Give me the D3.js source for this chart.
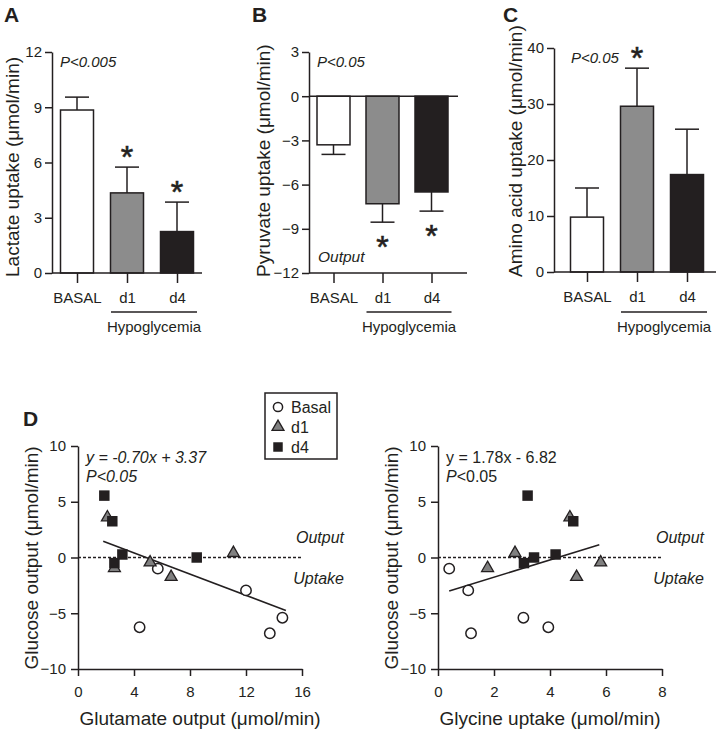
<!DOCTYPE html>
<html><head><meta charset="utf-8">
<script src="https://cdn.jsdelivr.net/npm/d3@7"></script>
<style>
body{margin:0;background:#fff;}
svg{display:block;font-family:"Liberation Sans",Arial,Helvetica,sans-serif;}
</style></head><body>
<svg id="chart" width="716" height="731"></svg>
<script>
// ---------- DATA ----------
const categories = ["BASAL", "d1", "d4"];
const groupLabel = "Hypoglycemia";

const lactateMean = [8.85, 4.35, 2.25];
const lactateSem = [0.7, 1.4, 1.6];
const lactateStars = [false, true, true];
const lactateTicks = [0, 3, 6, 9, 12];

const pyruvateMean = [-3.3, -7.3, -6.5];
const pyruvateSem = [0.65, 1.25, 1.3];
const pyruvateStars = [false, true, true];
const pyruvateTicks = [-12, -9, -6, -3, 0, 3];

const aminoMean = [9.8, 29.6, 17.4];
const aminoSem = [5.2, 6.8, 8.1];
const aminoStars = [false, true, false];
const aminoTicks = [0, 10, 20, 30, 40];

const scatterGroups = ["Basal", "d1", "d4"];
const basalGlucose = [-1.0, -6.25, -2.95, -6.8, -5.4];
const basalGlutamate = [5.7, 4.4, 12.0, 13.7, 14.6];
const basalGlycine = [0.40, 3.94, 1.08, 1.18, 3.05];
const d1Glucose = [3.6, -0.95, -0.45, -1.75, 0.4];
const d1Glutamate = [2.1, 2.6, 5.15, 6.65, 11.1];
const d1Glycine = [4.71, 1.77, 5.81, 4.95, 2.75];
const d4Glucose = [5.55, 3.25, -0.5, 0.27, 0.0];
const d4Glutamate = [1.88, 2.45, 2.6, 3.17, 8.48];
const d4Glycine = [3.2, 4.83, 3.07, 4.2, 3.43];

const glutamateFit = [[1.8, 1.45], [14.85, -4.75]];
const glycineFit = [[0.4, -3.0], [5.76, 1.14]];

const glucoseTicks = [-10, -5, 0, 5, 10];
const glutamateTicks = [0, 4, 8, 12, 16];
const glycineTicks = [0, 2, 4, 6, 8];

// ---------- STYLE ----------
const INK = "#231f20";
const barFills = ["#ffffff", "#8c8c8c", "#231f20"];
const svg = d3.select("#chart");

function styleAxis(sel, fs) {
  sel.selectAll("path.domain").attr("stroke", INK).attr("stroke-width", 1.5);
  sel.selectAll(".tick line").attr("stroke", INK).attr("stroke-width", 1.5);
  sel.selectAll(".tick text").attr("fill", INK).style("font-size", fs + "px")
    .style("font-family", '"Liberation Sans",Arial,sans-serif');
}

function barPanel(cfg) {
  const g = svg.append("g");
  const y = d3.scaleLinear().domain(cfg.domain).range([cfg.yBottom, cfg.yTop]);
  const x = d3.scalePoint().domain(categories).range(cfg.xRange).padding(0.5);
  const bw = 33;
  cfg.mean.forEach((m, i) => {
    const cx = x(categories[i]);
    const y0 = y(0), y1 = y(m);
    const e = m >= 0 ? m + cfg.sem[i] : m - cfg.sem[i];
    g.append("line").attr("x1", cx).attr("x2", cx).attr("y1", y1).attr("y2", y(e))
      .attr("stroke", INK).attr("stroke-width", 1.5);
    g.append("line").attr("x1", cx - 12).attr("x2", cx + 12).attr("y1", y(e)).attr("y2", y(e))
      .attr("stroke", INK).attr("stroke-width", 1.5);
    g.append("rect").attr("x", cx - bw / 2).attr("y", Math.min(y0, y1))
      .attr("width", bw).attr("height", Math.abs(y1 - y0))
      .attr("fill", barFills[i]).attr("stroke", INK).attr("stroke-width", 1.5);
    if (cfg.stars[i]) {
      const sy = m >= 0 ? y(e) - 17 : y(e) + 18;
      g.append("text").attr("x", cx).attr("y", sy).attr("dy", "0.57em")
        .attr("text-anchor", "middle").attr("fill", INK).attr("stroke", INK).attr("stroke-width", 0.6)
        .style("font-size", "32px").text("*");
    }
  });
  const ya = g.append("g").attr("transform", `translate(${cfg.axisX},0)`)
    .call(d3.axisLeft(y).tickValues(cfg.ticks).tickSize(7).tickSizeOuter(0).tickPadding(3));
  styleAxis(ya, 15);
  g.append("line").attr("x1", cfg.axisX).attr("x2", cfg.axisEnd)
    .attr("y1", cfg.yBottom).attr("y2", cfg.yBottom).attr("stroke", INK).attr("stroke-width", 1.5);
  if (cfg.domain[0] < 0) {
    g.append("line").attr("x1", cfg.axisX).attr("x2", cfg.zeroEnd)
      .attr("y1", y(0)).attr("y2", y(0)).attr("stroke", INK).attr("stroke-width", 1.5);
  }
  const xa = g.append("g").attr("transform", `translate(0,${cfg.yBottom})`)
    .call(d3.axisBottom(x).tickSize(10).tickSizeOuter(0).tickPadding(9));
  xa.select("path.domain").remove();
  styleAxis(xa, 15);
  const ux1 = x("d1") - 16, ux2 = x("d4") + 20;
  g.append("line").attr("x1", ux1).attr("x2", ux2).attr("y1", 312).attr("y2", 312)
    .attr("stroke", INK).attr("stroke-width", 1.5);
  g.append("text").attr("x", (ux1 + ux2) / 2).attr("y", 332).attr("text-anchor", "middle")
    .attr("fill", INK).style("font-size", "15px").text(groupLabel);
  g.append("text").attr("transform", `translate(${cfg.titleX},277) rotate(-90)`)
    .attr("text-anchor", "start").attr("fill", INK).style("font-size", "19px").text(cfg.title);
  g.append("text").attr("x", cfg.pX).attr("y", cfg.pY).attr("fill", INK)
    .style("font-size", "15px").style("font-style", "italic").text(cfg.pText);
  g.append("text").attr("x", cfg.letterX).attr("y", 22).attr("fill", INK)
    .style("font-size", "21px").style("font-weight", "bold").text(cfg.letter);
  return {g, x, y};
}

barPanel({letter: "A", letterX: 4, domain: [0, 12], ticks: lactateTicks, yTop: 52, yBottom: 273,
  xRange: [52, 202], axisX: 52, axisEnd: 202, mean: lactateMean, sem: lactateSem, stars: lactateStars,
  title: "Lactate uptake (\u03bcmol/min)", titleX: 19, pText: "P<0.005", pX: 60, pY: 67});

const pB = barPanel({letter: "B", letterX: 252, domain: [-12, 3], ticks: pyruvateTicks, yTop: 52, yBottom: 273,
  xRange: [309, 456], axisX: 309, axisEnd: 467, zeroEnd: 458, mean: pyruvateMean, sem: pyruvateSem, stars: pyruvateStars,
  title: "Pyruvate uptake (\u03bcmol/min)", titleX: 270, pText: "P<0.05", pX: 317, pY: 67});
pB.g.append("text").attr("x", 318).attr("y", 262).attr("fill", INK)
  .style("font-size", "15.5px").style("font-style", "italic").text("Output");

barPanel({letter: "C", letterX: 503, domain: [0, 40], ticks: aminoTicks, yTop: 48, yBottom: 272,
  xRange: [562, 712], axisX: 554, axisEnd: 716, mean: aminoMean, sem: aminoSem, stars: aminoStars,
  title: "Amino acid uptake (\u03bcmol/min)", titleX: 522, pText: "P<0.05", pX: 571, pY: 63});

// ---------- SCATTER ----------
const symTri = d3.symbol().type(d3.symbolTriangle).size(62);
const symSq = d3.symbol().type(d3.symbolSquare).size(110);

function scatterPanel(cfg) {
  const g = svg.append("g");
  const x = d3.scaleLinear().domain(cfg.xDomain).range([cfg.x0, cfg.x1]);
  const y = d3.scaleLinear().domain([-10, 10]).range([669, 446]);
  g.append("line").attr("x1", x(cfg.xDomain[0])).attr("x2", cfg.dashEnd)
    .attr("y1", y(0)).attr("y2", y(0)).attr("stroke", INK).attr("stroke-width", 1.3)
    .attr("stroke-dasharray", "3,2");
  g.append("line").attr("x1", x(cfg.fit[0][0])).attr("y1", y(cfg.fit[0][1]))
    .attr("x2", x(cfg.fit[1][0])).attr("y2", y(cfg.fit[1][1]))
    .attr("stroke", INK).attr("stroke-width", 1.6);
  cfg.basalX.forEach((v, i) => {
    g.append("circle").attr("cx", x(v)).attr("cy", y(basalGlucose[i])).attr("r", 5.2)
      .attr("fill", "#fff").attr("stroke", INK).attr("stroke-width", 1.5);
  });
  cfg.d1X.forEach((v, i) => {
    g.append("path").attr("d", symTri).attr("transform", `translate(${x(v)},${y(d1Glucose[i])})`)
      .attr("fill", "#808080").attr("stroke", INK).attr("stroke-width", 1.3);
  });
  cfg.d4X.forEach((v, i) => {
    g.append("path").attr("d", symSq).attr("transform", `translate(${x(v)},${y(d4Glucose[i])})`)
      .attr("fill", INK);
  });
  const ya = g.append("g").attr("transform", `translate(${cfg.x0},0)`)
    .call(d3.axisLeft(y).tickValues(glucoseTicks).tickSize(7).tickSizeOuter(0).tickPadding(5));
  styleAxis(ya, 15);
  const xa = g.append("g").attr("transform", `translate(0,669)`)
    .call(d3.axisBottom(x).tickValues(cfg.ticks).tickSize(7).tickSizeOuter(0).tickPadding(10));
  styleAxis(xa, 15);
  g.append("text").attr("x", cfg.outX).attr("y", 543).attr("text-anchor", "end").attr("fill", INK)
    .style("font-size", "16px").style("font-style", "italic").text("Output");
  g.append("text").attr("x", cfg.outX).attr("y", 584).attr("text-anchor", "end").attr("fill", INK)
    .style("font-size", "16px").style("font-style", "italic").text("Uptake");
  g.append("text").attr("x", cfg.titleCX).attr("y", 725).attr("text-anchor", "middle").attr("fill", INK)
    .style("font-size", "19px").text(cfg.xTitle);
  g.append("text").attr("transform", `translate(${cfg.yTitleX},558) rotate(-90)`)
    .attr("text-anchor", "middle").attr("fill", INK).style("font-size", "19px")
    .text("Glucose output (\u03bcmol/min)");
  return g;
}

const gL = scatterPanel({xDomain: [0, 16], x0: 78, x1: 302, dashEnd: 303, fit: glutamateFit,
  basalX: basalGlutamate, d1X: d1Glutamate, d4X: d4Glutamate, ticks: glutamateTicks,
  outX: 344, titleCX: 200, xTitle: "Glutamate output (\u03bcmol/min)", yTitleX: 38});
gL.append("text").attr("x", 86).attr("y", 463).attr("fill", INK)
  .style("font-size", "16px").style("font-style", "italic").text("y = -0.70x + 3.37");
gL.append("text").attr("x", 86).attr("y", 482).attr("fill", INK)
  .style("font-size", "16px").style("font-style", "italic").text("P<0.05");
gL.append("text").attr("x", 23).attr("y", 426).attr("fill", INK)
  .style("font-size", "21px").style("font-weight", "bold").text("D");

const gR = scatterPanel({xDomain: [0, 8], x0: 438, x1: 662, dashEnd: 663, fit: glycineFit,
  basalX: basalGlycine, d1X: d1Glycine, d4X: d4Glycine, ticks: glycineTicks,
  outX: 704, titleCX: 550, xTitle: "Glycine uptake (\u03bcmol/min)", yTitleX: 398});
gR.append("text").attr("x", 446).attr("y", 463).attr("fill", INK)
  .style("font-size", "16px").text("y = 1.78x - 6.82");
const pt = gR.append("text").attr("x", 446).attr("y", 482).attr("fill", INK).style("font-size", "16px");
pt.append("tspan").style("font-style", "italic").text("P");
pt.append("tspan").text("<0.05");

// legend
const lg = svg.append("g");
lg.append("rect").attr("x", 265).attr("y", 393).attr("width", 72).attr("height", 66)
  .attr("fill", "#fff").attr("stroke", INK).attr("stroke-width", 1.5);
scatterGroups.forEach((name, i) => {
  const ly = 407 + i * 20;
  if (i === 0) lg.append("circle").attr("cx", 278).attr("cy", ly).attr("r", 4.6)
    .attr("fill", "#fff").attr("stroke", INK).attr("stroke-width", 1.5);
  if (i === 1) lg.append("path").attr("d", symTri).attr("transform", `translate(278,${ly})`)
    .attr("fill", "#808080").attr("stroke", INK).attr("stroke-width", 1.3);
  if (i === 2) lg.append("path").attr("d", d3.symbol().type(d3.symbolSquare).size(90))
    .attr("transform", `translate(278,${ly})`).attr("fill", INK);
  lg.append("text").attr("x", 291).attr("y", ly).attr("dy", "0.36em").attr("fill", INK)
    .style("font-size", "16px").text(name);
});
</script>
</body></html>
